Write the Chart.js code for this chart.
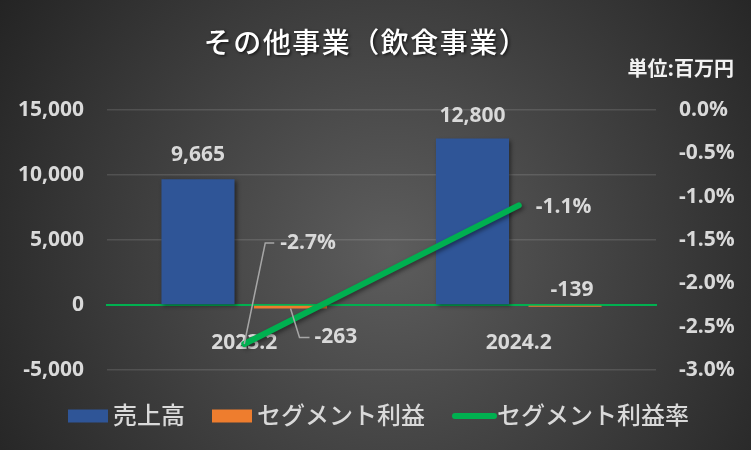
<!DOCTYPE html>
<html>
<head>
<meta charset="utf-8">
<script src="https://cdn.jsdelivr.net/npm/chart.js@4.4.1/dist/chart.umd.min.js"></script>
<style>
  html, body { margin: 0; padding: 0; background: #262626; }
  #wrap { width: 751px; height: 450px; }
</style>
</head>
<body>
<div id="wrap"><canvas id="segment-chart" width="751" height="450"></canvas></div>
<script>
const titleText = 'その他事業（飲食事業）';
const unitText = '単位:百万円';
const periods = ['2023.2', '2024.2'];
const seriesNames = ['売上高', 'セグメント利益', 'セグメント利益率'];
const sales = [9665, 12800];
const segmentProfit = [-263, -139];
const profitRate = [-2.7, -1.1];

const TXT = '#D9D9D9';
const NUM_FONT = "'Open Sans', 'Noto Sans CJK JP', sans-serif";
const JP_FONT = "'Noto Sans CJK JP', sans-serif";

// where each value label sits, relative to its bar / point
const labelSpots = [
    [{ dx: 0, dy: -24 }, { dx: 0, dy: -23 }],
    [{ dx: 24, dy: 29, align: 'left', leader: [[0, 0], [9, 29], [19, 29]] }, { dx: 7, dy: -17 }],
    [{ dx: 36, dy: -101, align: 'left', leader: [[0, 0], [21, -101], [30, -101]] }, { dx: 17, dy: 2, align: 'left' }]
];

function fmtLabel(i, v) {
    if (i === 2) return v.toFixed(1) + '%';
    return v.toLocaleString('en-US');
}

const backdrop = {
    id: 'backdrop',
    beforeDraw(chart) {
        const { ctx, width, height } = chart;
        const g = ctx.createRadialGradient(390, 250, 0, 390, 250, 470);
        g.addColorStop(0, '#5d5d5d');
        g.addColorStop(1, '#232323');
        ctx.save();
        ctx.fillStyle = g;
        ctx.fillRect(0, 0, width, height);
        ctx.restore();
    }
};

// soft drop shadow, blue bars and the line only
const shadows = {
    id: 'shadows',
    beforeDatasetDraw(chart, args) {
        const ctx = chart.ctx;
        ctx.save();
        if (args.index === 1) return;
        ctx.shadowColor = 'rgba(0,0,0,0.45)';
        ctx.shadowBlur = 4;
        ctx.shadowOffsetX = 2;
        ctx.shadowOffsetY = 2;
    },
    afterDatasetDraw(chart) {
        chart.ctx.restore();
    }
};

const dataLabels = {
    id: 'dataLabels',
    afterDatasetsDraw(chart) {
        const ctx = chart.ctx;
        ctx.save();
        ctx.font = 'bold 21px ' + NUM_FONT;
        ctx.fillStyle = TXT;
        ctx.textBaseline = 'middle';
        chart.data.datasets.forEach((ds, i) => {
            const meta = chart.getDatasetMeta(i);
            meta.data.forEach((el, j) => {
                const spot = labelSpots[i][j];
                if (spot.leader) {
                    ctx.beginPath();
                    spot.leader.forEach((p, k) => {
                        if (k === 0) ctx.moveTo(el.x + p[0], el.y + p[1]);
                        else ctx.lineTo(el.x + p[0], el.y + p[1]);
                    });
                    ctx.strokeStyle = '#A6A6A6';
                    ctx.lineWidth = 1.5;
                    ctx.stroke();
                }
                ctx.textAlign = spot.align || 'center';
                ctx.fillText(fmtLabel(i, ds.data[j]), el.x + spot.dx, el.y + spot.dy);
            });
        });
        ctx.restore();
    }
};

const headings = {
    id: 'headings',
    afterDraw(chart) {
        const ctx = chart.ctx;
        ctx.save();
        ctx.textBaseline = 'middle';
        ctx.textAlign = 'center';
        ctx.font = '500 28px ' + JP_FONT;
        ctx.letterSpacing = '1.5px';
        ctx.shadowColor = 'rgba(0,0,0,0.7)';
        ctx.shadowBlur = 3;
        ctx.shadowOffsetX = 1.5;
        ctx.shadowOffsetY = 1.5;
        ctx.fillStyle = '#FFFFFF';
        ctx.fillText(titleText, 366, 42);
        ctx.shadowColor = 'transparent';
        ctx.letterSpacing = '0px';
        ctx.font = 'bold 20px ' + JP_FONT;
        ctx.textAlign = 'right';
        ctx.fillStyle = '#F2F2F2';
        ctx.fillText(unitText, 734, 68);

        // legend
        ctx.font = '500 24px ' + JP_FONT;
        ctx.textAlign = 'left';
        const ds = chart.data.datasets;
        const widths = ds.map(d => ctx.measureText(d.label).width);
        const total = widths.reduce((a, b) => a + b, 0) + ds.length * 45 + (ds.length - 1) * 27;
        let x = (chart.width - total) / 2 + 3;
        const y = 416;
        ds.forEach((d, i) => {
            if (d.type === 'line') {
                ctx.beginPath();
                ctx.moveTo(x + 3, y);
                ctx.lineTo(x + 42, y);
                ctx.strokeStyle = d.borderColor;
                ctx.lineWidth = 6;
                ctx.lineCap = 'round';
                ctx.stroke();
            } else {
                ctx.fillStyle = d.backgroundColor;
                ctx.fillRect(x, y - 6.5, 40, 13);
            }
            ctx.fillStyle = TXT;
            ctx.fillText(d.label, x + 45, y - 1);
            x += 45 + widths[i] + 27;
        });
        ctx.restore();
    }
};

const ctx = document.getElementById('segment-chart').getContext('2d');
window.segChart = new Chart(ctx, {
    type: 'bar',
    data: {
        labels: periods,
        datasets: [{
            label: seriesNames[0],
            data: sales,
            backgroundColor: '#2F5597',
            yAxisID: 'y',
            order: 2,
            categoryPercentage: 0.674,
            barPercentage: 0.79
        }, {
            label: seriesNames[1],
            data: segmentProfit,
            backgroundColor: '#EE7D2E',
            yAxisID: 'y',
            order: 2,
            categoryPercentage: 0.674,
            barPercentage: 0.79
        }, {
            type: 'line',
            label: seriesNames[2],
            data: profitRate,
            borderColor: '#00B050',
            backgroundColor: '#00B050',
            borderWidth: 6,
            borderCapStyle: 'round',
            pointRadius: 0,
            yAxisID: 'y1',
            order: 1
        }]
    },
    options: {
        responsive: false,
        animation: false,
        layout: { padding: { top: 110, bottom: 80, left: 0, right: 0 } },
        plugins: {
            legend: { display: false },
            title: { display: false },
            tooltip: { enabled: false }
        },
        scales: {
            x: {
                position: { y: 0 },
                grid: { display: false, drawTicks: false },
                border: { display: true, color: '#00B050', width: 2 },
                ticks: {
                    color: TXT,
                    padding: 25,
                    font: { family: NUM_FONT, size: 21, weight: 'bold' }
                }
            },
            y: {
                position: 'left',
                min: -5000,
                max: 15000,
                afterFit(scale) { scale.width = 107; },
                grid: { color: 'rgba(255,255,255,0.12)', lineWidth: 1.5, drawTicks: false },
                border: { display: false },
                ticks: {
                    stepSize: 5000,
                    color: TXT,
                    padding: 23,
                    font: { family: NUM_FONT, size: 21, weight: 'bold' },
                    callback(v) { return v.toLocaleString('en-US'); }
                }
            },
            y1: {
                position: 'right',
                min: -3,
                max: 0,
                afterFit(scale) { scale.width = 95; },
                grid: { display: false, drawTicks: false },
                border: { display: false },
                ticks: {
                    stepSize: 0.5,
                    color: TXT,
                    padding: 23,
                    font: { family: NUM_FONT, size: 21, weight: 'bold' },
                    callback(v) { return v.toFixed(1) + '%'; }
                }
            }
        }
    },
    plugins: [backdrop, shadows, dataLabels, headings]
});
</script>
</body>
</html>
